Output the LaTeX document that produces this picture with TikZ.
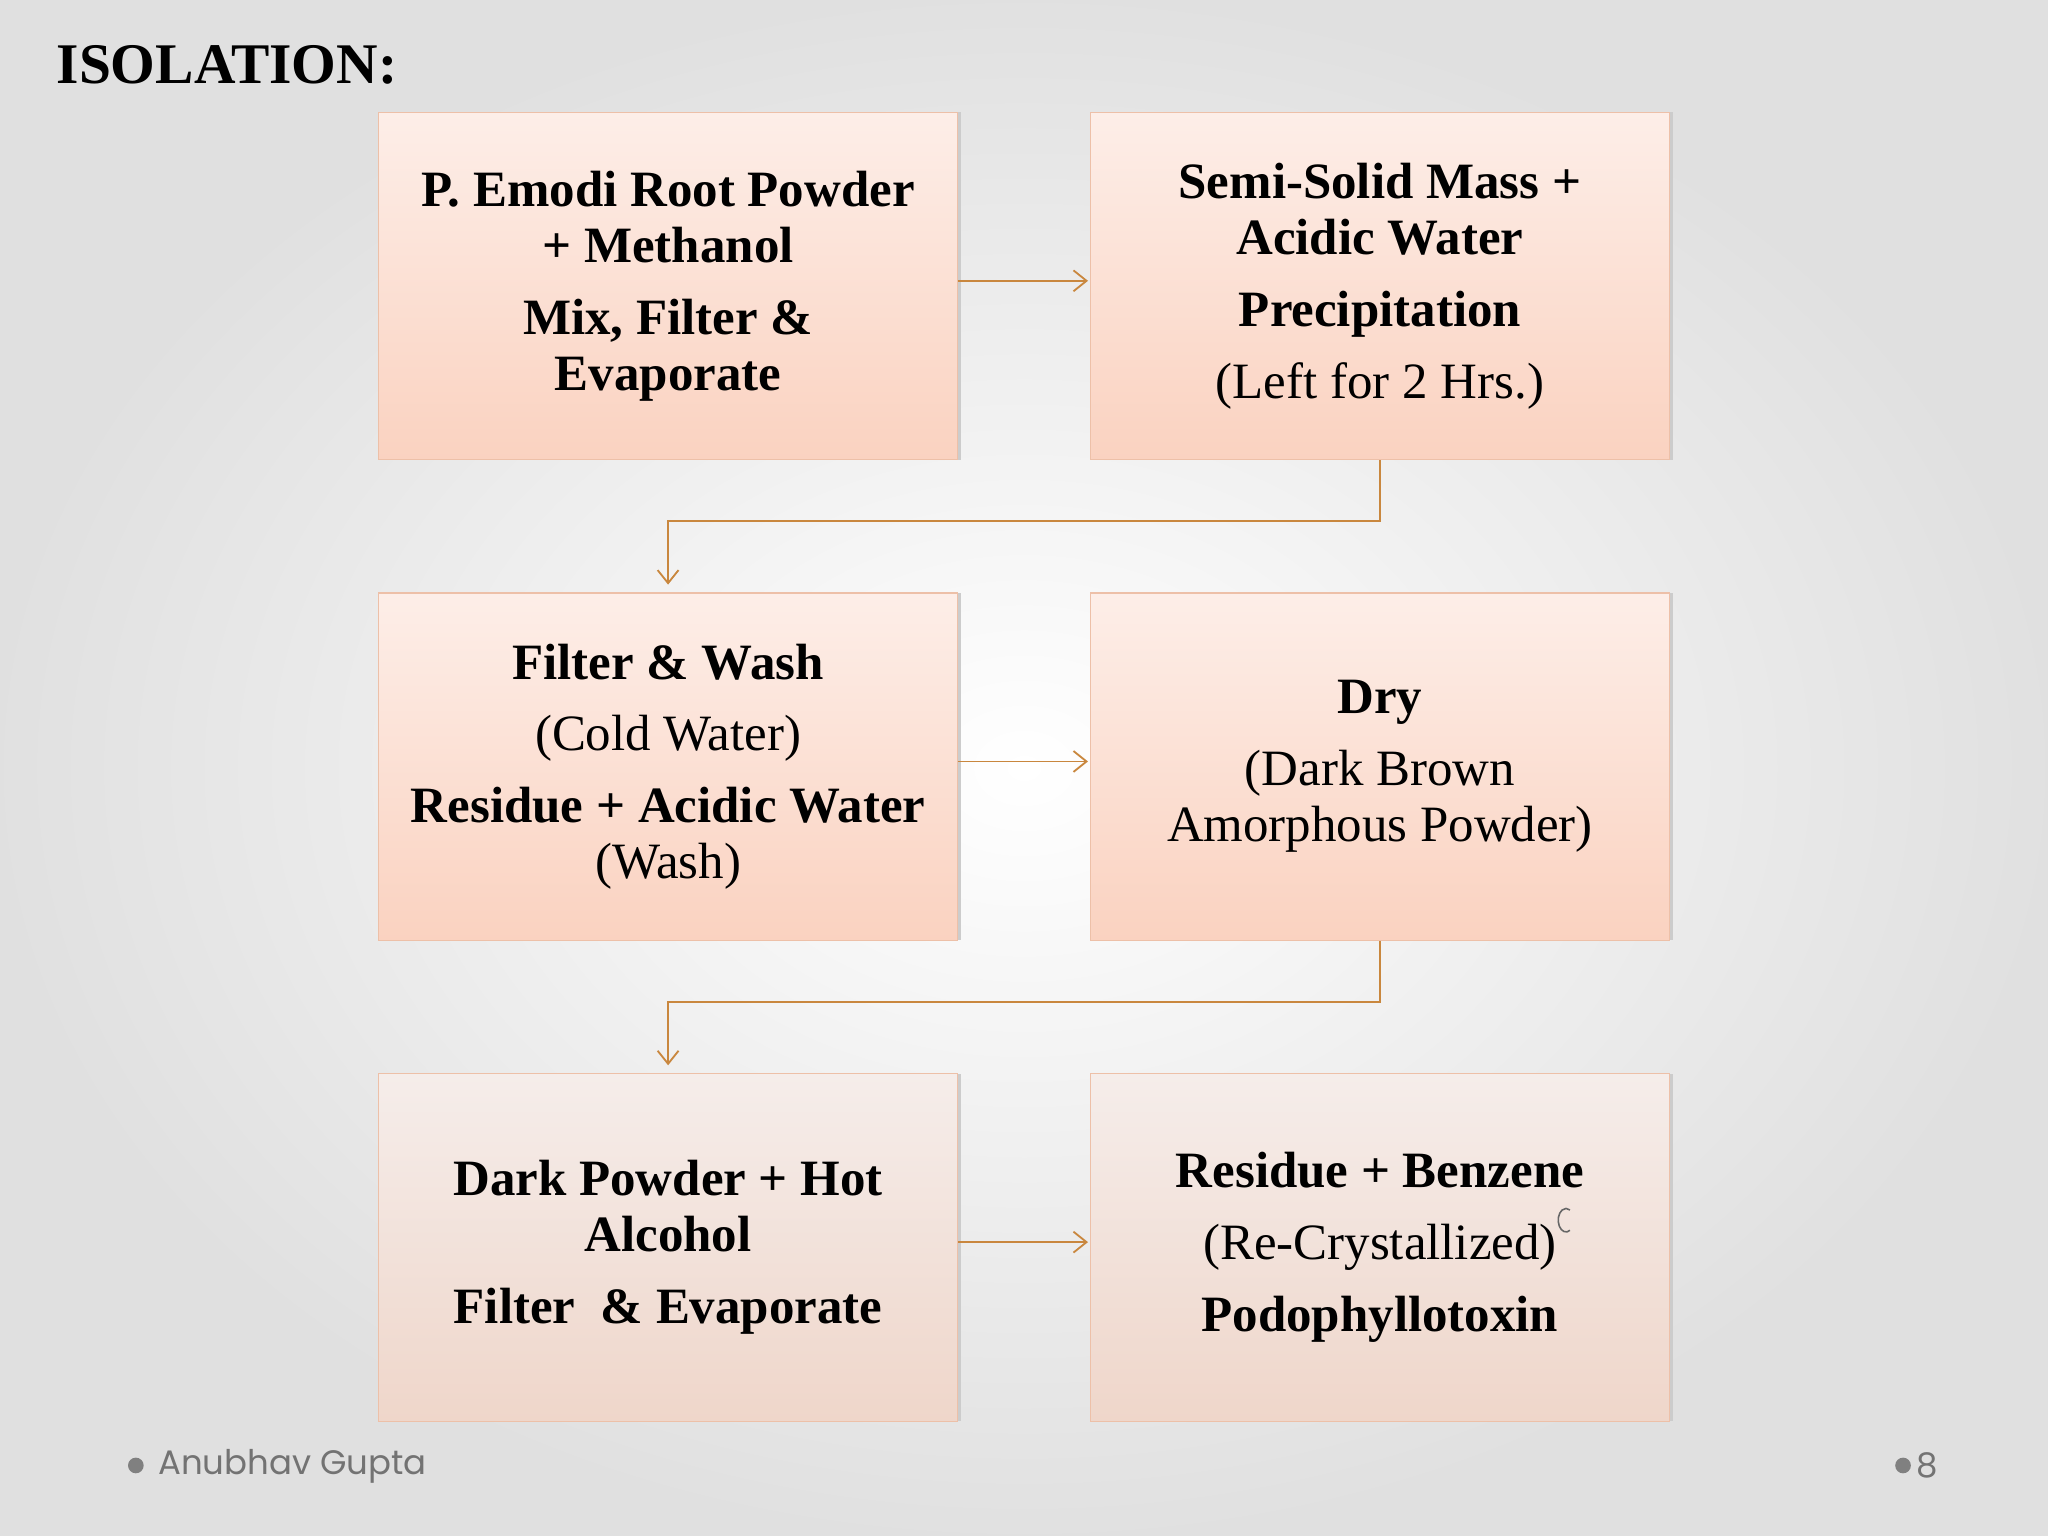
\documentclass[tikz,border=0pt]{standalone}
\usepackage{fontspec}
\setmainfont{Liberation Serif}
\newfontfamily\foot{Poppins}
\usetikzlibrary{arrows.meta}
\definecolor{boxtop}{HTML}{FDEEE8}
\definecolor{boxbot}{HTML}{FAD2C0}
\definecolor{boxtopc}{HTML}{F5EDEA}
\definecolor{boxbotc}{HTML}{EFD6CA}
\definecolor{edgec}{HTML}{EDC0A8}
\definecolor{arr}{HTML}{C9873E}
\begin{document}
\begin{tikzpicture}[x=0.5pt,y=-0.5pt,
  box/.style={draw=edgec,line width=0.4pt,top color=boxtop,bottom color=boxbot,minimum width=221.5pt,minimum height=133pt,inner sep=0pt,align=center,font=\fontsize{19.5}{21.5}\selectfont},
  boxc/.style={box,top color=boxtopc,bottom color=boxbotc},
  con/.style={draw=arr,line width=0.7pt,-{Straight Barb[length=5pt,width=8pt]}}]
\useasboundingbox (0,0) rectangle (1568,1176);
\shade[inner color=white,outer color=black!12] (0,0) rectangle (1568,1176);
\node[anchor=west,inner sep=0pt,font=\bfseries\fontsize{22}{26}\selectfont] (title) at (43,50) {ISOLATION:};
\foreach \x/\y in {290/82,835/82,290/450,835/450,290/818,835/818}
  \fill[black!20] (\x+3,\y+4) rectangle (\x+446,\y+270);
\node[box] (b1) at (511.5,219) {\textbf{P. Emodi Root Powder}\\\textbf{+ Methanol}\\[6pt]\textbf{Mix, Filter \&}\\\textbf{Evaporate}};
\node[box] (b2) at (1056.5,219) {\textbf{Semi-Solid Mass +}\\\textbf{Acidic Water}\\[6pt]\textbf{Precipitation}\\[6pt](Left for 2 Hrs.)};
\node[box] (b3) at (511.5,587) {\textbf{Filter \& Wash}\\[6pt](Cold Water)\\[6pt]\textbf{Residue + Acidic Water}\\(Wash)};
\node[box] (b4) at (1056.5,587) {\textbf{Dry}\\[6pt](Dark Brown\\Amorphous Powder)};
\node[boxc] (b5) at (511.5,955) {\textbf{Dark Powder + Hot}\\\textbf{Alcohol}\\[6pt]\textbf{Filter\ \ \& Evaporate}};
\node[boxc] (b6) at (1056.5,955) {\textbf{Residue + Benzene}\\[6pt](Re-Crystallized)\hspace*{22pt}\\[6pt]\textbf{Podophyllotoxin}};
\draw[black!60,line width=0.6pt] (1202,942) arc (60:300:6 and 9);
\coordinate (k1) at (1056.5,399); \coordinate (k2) at (511.5,399);
\coordinate (k3) at (1056.5,767); \coordinate (k4) at (511.5,767);
\draw[con] ([xshift=0pt]b1.east |- 0,215) -- (833,215);
\draw[con] (b2.south) -- (k1) -- (k2) -- ([yshift=3pt]b3.north);
\draw[con] (b3.east |- 0,583) -- (833,583);
\draw[con] (b4.south) -- (k3) -- (k4) -- ([yshift=3pt]b5.north);
\draw[con] (b5.east |- 0,951) -- (833,951);
\fill[black!50] (104,1122) circle (6);
\node[anchor=west,font=\foot\fontsize{13}{15}\selectfont,text=black!55] (au) at (114,1123) {Anubhav Gupta};
\fill[black!50] (1457,1122) circle (6);
\node[anchor=west,font=\foot\fontsize{13}{15}\selectfont,text=black!55,inner sep=1pt] (pg) at (1465,1122) {8};
\end{tikzpicture}
\end{document}
